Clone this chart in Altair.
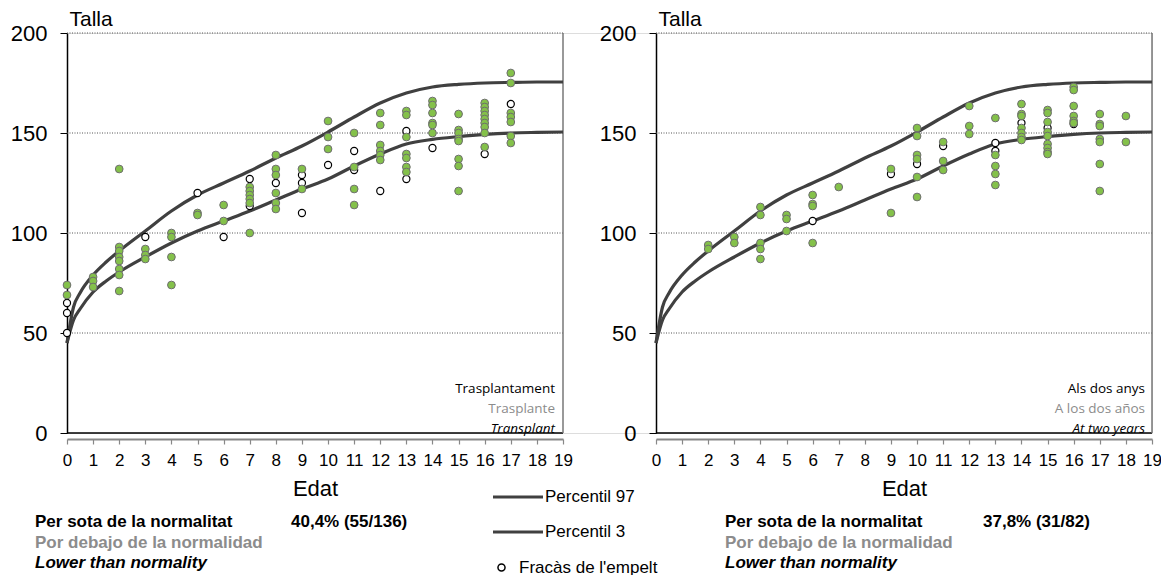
import altair as alt
import pandas as pd

FONT = "Liberation Sans"
NOTE_FONT = "Open Sans"
GREEN = "#84C14A"
CURVE_COLOR = "#404040"
GREY_TEXT = "#8C8C8C"

# ---- percentile curves ----
CURVE_AGE = [0, 0.25, 0.5, 1, 1.5, 2, 3, 4, 5, 6, 7, 8, 9, 10, 11, 12, 13, 14, 15, 16, 17, 18, 19]
P97 = [45, 63, 70, 79, 85.5, 91, 101, 111, 119, 125, 131, 137.5, 143.5, 150.5, 158, 165, 170, 173, 174.3, 175, 175.3, 175.5, 175.5]
P3 = [45, 56.5, 62, 70.5, 76, 80.5, 88, 95, 101, 106, 111, 116.5, 122, 127, 133.5, 139.5, 144.5, 146.8, 148.2, 149.3, 150, 150.3, 150.5]

# ---- left panel: transplant ----
LEFT_GREEN_AGE = ([0] * 2 + [1] * 3 + [2] * 8 + [3] * 3 + [4] * 4 + [5] * 2 + [6] * 2 + [7] * 6 + [8] * 6
                  + [9] * 2 + [10] * 3 + [11] * 4 + [12] * 6 + [13] * 7 + [14] * 6 + [15] * 8 + [16] * 9 + [17] * 7)
LEFT_GREEN_TALLA = [74, 69,
                    78, 76, 73,
                    132, 93, 91, 88, 86, 82, 79, 71,
                    92, 89, 87,
                    100, 98, 88, 74,
                    110, 109,
                    114, 106,
                    123, 121, 119, 117, 115, 100,
                    139, 132, 129, 120, 115, 112,
                    132, 122,
                    156, 148, 142,
                    150, 133, 122, 114,
                    160, 154, 144, 141, 139, 136.5,
                    161, 159, 148, 139.5, 137.5, 133, 130.5,
                    166, 164, 160, 155, 154, 150,
                    159.5, 151.5, 150, 147, 146, 137, 133.5, 121,
                    165, 163, 161, 159, 157, 155, 153, 150, 143,
                    180, 175, 160, 158, 155.5, 148.5, 145]
LEFT_OPEN_AGE = [0, 0, 0, 3, 5, 6, 7, 7, 8, 9, 9, 9, 10, 11, 11, 12, 13, 13, 14, 16, 17]
LEFT_OPEN_TALLA = [65, 60, 50, 98, 120, 98, 127, 113.5, 125, 129, 125, 110, 134, 141, 131.5, 121, 151, 127, 142.5, 139.5, 164.5]

# ---- right panel: at two years ----
RIGHT_GREEN_AGE = ([2] * 2 + [3] * 2 + [4] * 5 + [5] * 3 + [6] * 4 + [7] * 1 + [9] * 2 + [10] * 6 + [11] * 3
                   + [12] * 3 + [13] * 5 + [14] * 7 + [15] * 9 + [16] * 6 + [17] * 7 + [18] * 2)
RIGHT_GREEN_TALLA = [94, 92,
                     98, 95,
                     113, 109, 95, 92, 87,
                     109, 107, 101,
                     119, 114.5, 113.5, 95,
                     123,
                     132, 110,
                     152.5, 148.5, 139, 137, 128, 118,
                     145.5, 136, 131.5,
                     163.5, 153.5, 149.5,
                     157.5, 139, 133.5, 129.5, 124,
                     164.5, 159.5, 158.5, 152.5, 150, 148, 146.5,
                     161.5, 160, 155.5, 150.5, 148.5, 144.5, 142.5, 140.5, 139.5,
                     173, 171.5, 163.5, 158.5, 156, 155,
                     159.5, 154.5, 153.5, 147, 145.5, 134.5, 121,
                     158.5, 145.5]
RIGHT_OPEN_AGE = [6, 9, 10, 11, 13, 13, 14, 15, 16]
RIGHT_OPEN_TALLA = [106, 129.5, 134.5, 143.5, 145, 141, 155, 152.5, 154.5]

X_TICKS = list(range(20))
Y_TICKS = [0, 50, 100, 150, 200]
GRID = [50, 100, 150, 200]
X_DOMAIN = [0, 19]
Y_DOMAIN = [0, 200]

CURVE_SERIES = ["Percentil 97", "Percentil 3"]
FAIL_SERIES = ["Fracàs de l'empelt"]
LEFT_NOTE = ["Trasplantament", "Trasplante", "Transplant"]
RIGHT_NOTE = ["Als dos anys", "A los dos años", "At two years"]
BOTTOM_NOTE = ["Per sota de la normalitat", "Por debajo de la normalidad", "Lower than normality"]
LEFT_PCT = ["40,4% (55/136)"]
RIGHT_PCT = ["37,8% (31/82)"]

curve_df = pd.concat([
    pd.DataFrame({"edat": CURVE_AGE, "talla": P97, "serie": CURVE_SERIES[0]}),
    pd.DataFrame({"edat": CURVE_AGE, "talla": P3, "serie": CURVE_SERIES[1]}),
])
grid_df = pd.DataFrame({"v": GRID, "x0": X_DOMAIN[0], "x1": X_DOMAIN[1]})
base_df = pd.DataFrame({"v": [Y_DOMAIN[0]], "x0": [X_DOMAIN[0]], "x1": [X_DOMAIN[1]]})
side_df = pd.DataFrame({"x": [X_DOMAIN[1]], "v0": [Y_DOMAIN[0]], "v1": [Y_DOMAIN[1]]})


def panel(g_age, g_t, o_age, o_t, x_range, y_offset, with_legend):
    xs = alt.Scale(domain=X_DOMAIN, range=x_range, nice=False, zero=False)
    ys = alt.Scale(domain=Y_DOMAIN, nice=False)
    xa = alt.Axis(values=X_TICKS, title="Edat", orient="bottom", offset=6, grid=False,
                  labelFontSize=17, labelColor="black", labelFlush=False, labelPadding=8,
                  labelOverlap=False,
                  tickColor="#888888", domainColor="#888888", domainWidth=2, tickSize=5, tickWidth=1.2,
                  titleFontSize=22, titleFontWeight="normal", titleColor="black", titlePadding=10,
                  labelFont=FONT, titleFont=FONT)
    ya = alt.Axis(values=Y_TICKS, title="Talla", orient="left", offset=y_offset, grid=False,
                  labelFontSize=22, labelColor="black", labelPadding=13,
                  tickColor="black", domainColor="black", domainWidth=1.5, tickSize=7,
                  titleFontSize=21, titleFontWeight="normal", titleColor="black",
                  titleAngle=0, titleAlign="left", titleBaseline="middle", titleX=2, titleY=-14,
                  labelFont=FONT, titleFont=FONT)

    def X(f):
        return alt.X(f, type="quantitative", scale=xs, axis=xa)

    def Y(f):
        return alt.Y(f, type="quantitative", scale=ys, axis=ya)

    grid = alt.Chart(grid_df).mark_rule(stroke="#555555", strokeDash=[1, 1.5], strokeWidth=1).encode(
        x=X("x0"), x2="x1", y=Y("v"))
    base = alt.Chart(base_df).mark_rule(stroke="black", strokeWidth=1.5).encode(
        x=X("x0"), x2="x1", y=Y("v"))
    side = alt.Chart(side_df).mark_rule(stroke="#777777", strokeWidth=1.5).encode(
        x=X("x"), y=Y("v0"), y2="v1")
    open_df = pd.DataFrame({"edat": o_age, "talla": o_t, "serie": FAIL_SERIES[0]})
    green_df = pd.DataFrame({"edat": g_age, "talla": g_t})
    # white interior of the "graft failure" circles
    open_fill = alt.Chart(open_df).mark_point(
        shape="circle", filled=True, color="white", size=50, opacity=1
    ).encode(x=X("edat"), y=Y("talla"))
    if with_legend:
        curves = alt.Chart(curve_df).mark_line(strokeWidth=3.2, interpolate="monotone").encode(
            x=X("edat"), y=Y("talla"),
            color=alt.Color("serie:N", scale=alt.Scale(domain=CURVE_SERIES, range=[CURVE_COLOR, CURVE_COLOR]),
                            legend=alt.Legend(title=None, orient="none", legendX=424, legendY=437, padding=0,
                                              symbolType="stroke", symbolSize=2500, symbolStrokeWidth=3.2,
                                              labelFont=FONT, labelFontSize=17, labelColor="black",
                                              labelOffset=0, rowPadding=-14)))
        opens = alt.Chart(open_df).mark_point(
            filled=False, color="black", strokeWidth=1.2, size=50, opacity=1
        ).encode(x=X("edat"), y=Y("talla"),
                 shape=alt.Shape("serie:N", scale=alt.Scale(domain=FAIL_SERIES, range=["circle"]),
                                 legend=alt.Legend(title=None, orient="none", legendX=426, legendY=526, padding=0,
                                                   symbolSize=50, symbolStrokeColor="black",
                                                   symbolStrokeWidth=1.5, symbolOpacity=1, symbolType="circle",
                                                   labelFont=FONT, labelFontSize=17, labelColor="black",
                                                   labelOffset=9)))
    else:
        curves = alt.Chart(curve_df).mark_line(stroke=CURVE_COLOR, strokeWidth=3.2, interpolate="monotone").encode(
            x=X("edat"), y=Y("talla"), detail="serie:N")
        opens = alt.Chart(open_df).mark_point(
            shape="circle", filled=False, color="black", strokeWidth=1.2, size=50, opacity=1
        ).encode(x=X("edat"), y=Y("talla"))
    greens = alt.Chart(green_df).mark_point(
        shape="circle", filled=True, fill=GREEN, stroke="#6E6E6E", strokeWidth=1, size=60, opacity=1
    ).encode(x=X("edat"), y=Y("talla"))
    return alt.layer(grid, base, side, curves, open_fill, opens, greens)


left = panel(LEFT_GREEN_AGE, LEFT_GREEN_TALLA, LEFT_OPEN_AGE, LEFT_OPEN_TALLA, [0, 496], 0, True)
right = panel(RIGHT_GREEN_AGE, RIGHT_GREEN_TALLA, RIGHT_OPEN_AGE, RIGHT_OPEN_TALLA, [589, 1085], -589, False)


def text(lines, idx, px, py, color="black", italic=False, bold=False, font=NOTE_FONT, size=13.5, align="right"):
    df = pd.DataFrame({"t": [lines[idx]]})
    return alt.Chart(df).mark_text(
        align=align, baseline="middle", font=font, fontSize=size, color=color,
        fontStyle="italic" if italic else "normal", fontWeight="bold" if bold else "normal"
    ).encode(text="t:N", x=alt.value(px), y=alt.value(py))


notes = [
    text(LEFT_NOTE, 0, 488, 356),
    text(LEFT_NOTE, 1, 488, 376, color=GREY_TEXT),
    text(LEFT_NOTE, 2, 488, 396, italic=True),
    text(RIGHT_NOTE, 0, 1078, 356),
    text(RIGHT_NOTE, 1, 1078, 376, color=GREY_TEXT),
    text(RIGHT_NOTE, 2, 1078, 396, italic=True),
]
for x0, pct, xp in [(-32, LEFT_PCT, 224), (658, RIGHT_PCT, 916)]:
    notes += [
        text(BOTTOM_NOTE, 0, x0, 489, bold=True, font=FONT, size=17, align="left"),
        text(BOTTOM_NOTE, 1, x0, 510, color=GREY_TEXT, bold=True, font=FONT, size=17, align="left"),
        text(BOTTOM_NOTE, 2, x0, 530, italic=True, bold=True, font=FONT, size=17, align="left"),
        text(pct, 0, xp, 489, bold=True, font=FONT, size=17, align="left"),
    ]

chart = alt.layer(left, right, *notes).resolve_scale(x="independent", y="independent").properties(
    width=1085, height=400,
    padding={"left": 59, "top": 25, "right": 9, "bottom": 142},
    autosize=alt.AutoSizeParams(type="none"),
).configure_view(stroke=None).configure(font=FONT)

chart.save("out.html", embed_options={"renderer": "svg", "actions": False})
